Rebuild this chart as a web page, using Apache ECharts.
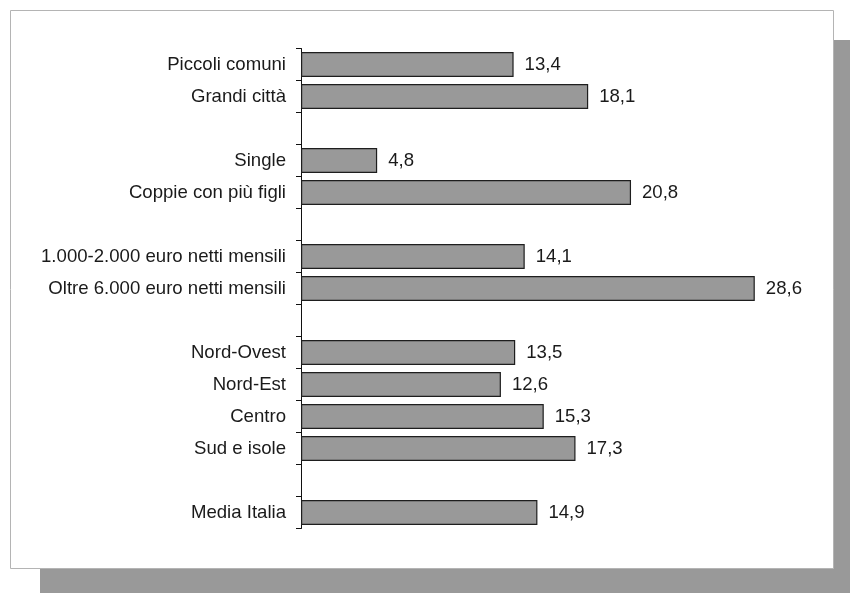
<!DOCTYPE html>
<html>
<head>
<meta charset="utf-8">
<script src="https://cdn.jsdelivr.net/npm/echarts@6/dist/echarts.min.js"></script>
<style>
html,body{margin:0;padding:0;background:#fff;}
#chart{width:850px;height:593px;}
</style>
</head>
<body>
<div id="chart"></div>
<script>
const categories = [
  'Piccoli comuni', 'Grandi città', '',
  'Single', 'Coppie con più figli', '',
  '1.000-2.000 euro netti mensili', 'Oltre 6.000 euro netti mensili', '',
  'Nord-Ovest', 'Nord-Est', 'Centro', 'Sud e isole', '',
  'Media Italia'
];
const values = [
  13.4, 18.1, null,
  4.8, 20.8, null,
  14.1, 28.6, null,
  13.5, 12.6, 15.3, 17.3, null,
  14.9
];
const xMax = 30;

const chart = echarts.init(document.getElementById('chart'), null, {renderer: 'canvas'});
const font = '"Liberation Sans", Arial, sans-serif';
chart.setOption({
  animation: false,
  backgroundColor: '#ffffff',
  graphic: [
    {type: 'rect', z: -10, shape: {x: 40, y: 40, width: 830, height: 570}, style: {fill: '#999999'}},
    {type: 'rect', z: -9, shape: {x: 10.5, y: 10.5, width: 823, height: 558}, style: {fill: '#ffffff', stroke: '#b4b4b4', lineWidth: 1}}
  ],
  grid: {left: 301, top: 48.5, height: 480, width: 476, containLabel: false},
  xAxis: {
    type: 'value', min: 0, max: xMax, show: false
  },
  yAxis: {
    type: 'category',
    inverse: true,
    data: categories,
    axisLine: {show: true, lineStyle: {color: '#111', width: 1}},
    axisTick: {show: true, length: 5, interval: 0, lineStyle: {color: '#111', width: 1}},
    axisLabel: {interval: 0, margin: 15, color: '#1a1a1a', fontFamily: font, fontSize: 18.6},
    splitLine: {show: false}
  },
  series: [{
    type: 'bar',
    data: values,
    barWidth: 25,
    itemStyle: {color: '#999999', borderColor: '#1e1e1e', borderWidth: 1.2},
    label: {
      show: true, position: 'right', distance: 11,
      color: '#1a1a1a', fontFamily: font, fontSize: 18.6,
      formatter: p => p.value == null ? '' : String(p.value).replace('.', ',')
    }
  }]
});
</script>
</body>
</html>
